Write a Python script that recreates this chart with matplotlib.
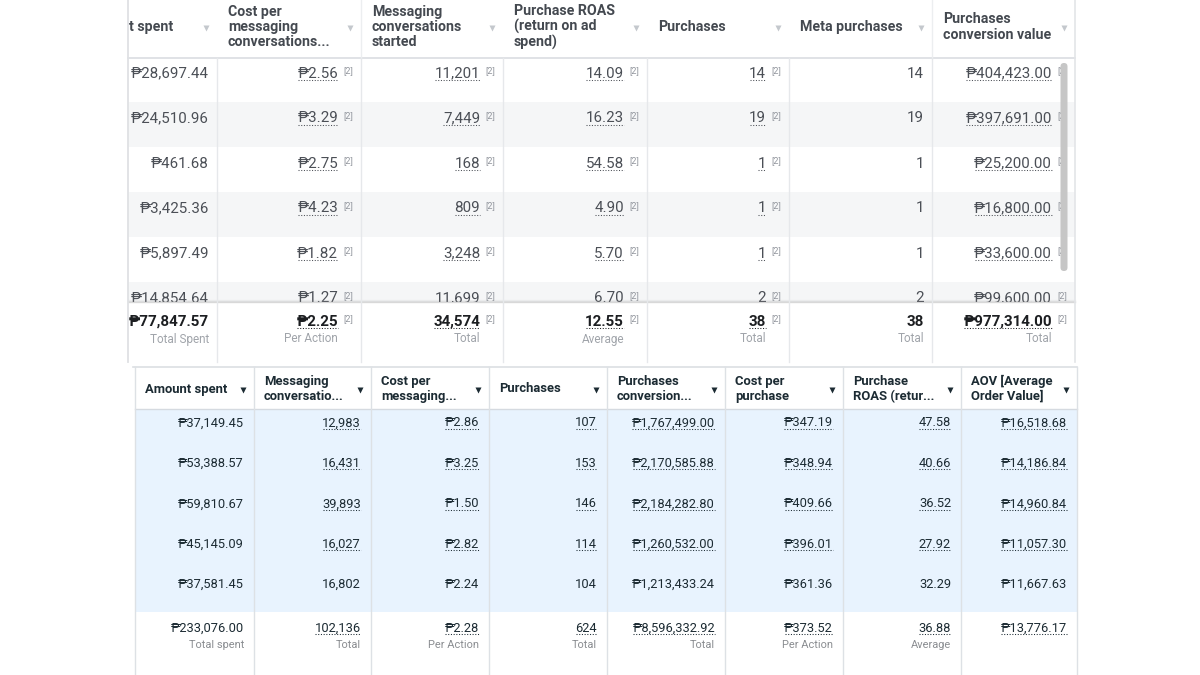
import matplotlib
matplotlib.use('Agg')
import matplotlib.pyplot as plt
from matplotlib.patches import Rectangle, FancyBboxPatch

# ---------------- data ----------------
top_headers = ["t spent", "Cost per\nmessaging\nconversations...", "Messaging\nconversations\nstarted",
               "Purchase ROAS\n(return on ad\nspend)", "Purchases", "Meta purchases",
               "Purchases\nconversion value"]
top_amount_spent = [28697.44, 24510.96, 461.68, 3425.36, 5897.49, 14854.64]
top_cost_per_msg = [2.56, 3.29, 2.75, 4.23, 1.82, 1.27]
top_msgs_started = [11201, 7449, 168, 809, 3248, 11699]
top_roas = [14.09, 16.23, 54.58, 4.90, 5.70, 6.70]
top_purchases = [14, 19, 1, 1, 1, 2]
top_meta_purchases = [14, 19, 1, 1, 1, 2]
top_conv_value = [404423.00, 397691.00, 25200.00, 16800.00, 33600.00, 99600.00]
top_totals = [77847.57, 2.25, 34574, 12.55, 38, 38, 977314.00]
top_total_labels = ["Total Spent", "Per Action", "Total", "Average", "Total", "Total", "Total"]
top_formats = ["peso", "peso", "int", "float", "int", "int", "peso"]
top_superscript = [False, True, True, True, True, False, True]

bot_headers = ["Amount spent", "Messaging\nconversatio...", "Cost per\nmessaging...", "Purchases",
               "Purchases\nconversion...", "Cost per\npurchase", "Purchase\nROAS (retur...",
               "AOV [Average\nOrder Value]"]
bot_amount_spent = [37149.45, 53388.57, 59810.67, 45145.09, 37581.45]
bot_msgs = [12983, 16431, 39893, 16027, 16802]
bot_cost_per_msg = [2.86, 3.25, 1.50, 2.82, 2.24]
bot_purchases = [107, 153, 146, 114, 104]
bot_conv_value = [1767499.00, 2170585.88, 2184282.80, 1260532.00, 1213433.24]
bot_cost_per_purchase = [347.19, 348.94, 409.66, 396.01, 361.36]
bot_roas = [47.58, 40.66, 36.52, 27.92, 32.29]
bot_aov = [16518.68, 14186.84, 14960.84, 11057.30, 11667.63]
bot_totals = [233076.00, 102136, 2.28, 624, 8596332.92, 373.52, 36.88, 13776.17]
bot_total_labels = ["Total spent", "Total", "Per Action", "Total", "Total", "Per Action", "Average", ""]
bot_formats = ["peso", "int", "peso", "int", "peso", "peso", "float", "peso"]

top_columns = [top_amount_spent, top_cost_per_msg, top_msgs_started, top_roas,
               top_purchases, top_meta_purchases, top_conv_value]
bot_columns = [bot_amount_spent, bot_msgs, bot_cost_per_msg, bot_purchases,
               bot_conv_value, bot_cost_per_purchase, bot_roas, bot_aov]


def fmt(v, kind):
    if kind == "peso":
        return "\u20b1{:,.2f}".format(v)
    if kind == "int":
        return "{:,}".format(int(v))
    return "{:.2f}".format(v)


# ---------------- figure ----------------
W, H = 1200, 675
fig = plt.figure(figsize=(12, 6.75), dpi=100)
ax = fig.add_axes([0, 0, 1, 1])
ax.set_xlim(0, W)
ax.set_ylim(H, 0)
ax.axis('off')
fig.patch.set_facecolor('white')

FONT = ['Roboto', 'DejaVu Sans']
under = []


def put(x, y, s, size, color, weight='normal', ha='right', va='baseline',
        underline=False, z=4, ls=1.2):
    t = ax.text(x, y, s, fontsize=size, color=color, fontweight=weight, ha=ha, va=va,
                family=FONT, zorder=z, linespacing=ls)
    if underline:
        under.append((t, y + 2.4, color, z))
    return t


# ---------------- top table ----------------
T_EDGES = [128, 217, 361, 503, 647, 789, 932, 1075]
T_HEAD_BOTTOM = 58
T_ROW_H = 45
T_FOOT_TOP = 302
T_BOTTOM = 362
TXT_TOP = '#4b4f56'
GRID_TOP = '#e6e8eb'

# alternating row bands
for i in range(len(top_amount_spent)):
    if i % 2 == 1:
        y0 = T_HEAD_BOTTOM + 44 + T_ROW_H * (i - 1)
        ax.add_patch(Rectangle((T_EDGES[0], y0), T_EDGES[-1] - T_EDGES[0], T_ROW_H,
                               facecolor='#f5f6f7', edgecolor='none', zorder=1))

# header line
ax.plot([T_EDGES[0], T_EDGES[-1]], [T_HEAD_BOTTOM, T_HEAD_BOTTOM], color='#dadde1', lw=1.2, zorder=3)
# vertical lines
for x in T_EDGES[1:-1]:
    ax.plot([x, x], [T_HEAD_BOTTOM, T_BOTTOM], color=GRID_TOP, lw=1.0, zorder=6)
for x in [361, 932]:
    ax.plot([x, x], [0, T_HEAD_BOTTOM], color='#eceef0', lw=1.0, zorder=3)
# outer borders
ax.plot([T_EDGES[0], T_EDGES[0]], [0, T_BOTTOM], color='#dfe1e4', lw=1.3, zorder=6)
ax.plot([T_EDGES[-1], T_EDGES[-1]], [0, T_BOTTOM], color='#e3e5e8', lw=1.2, zorder=6)

# headers
for j, h in enumerate(top_headers):
    x = T_EDGES[j] + (1 if j == 0 else 11)
    put(x, 27, h, 10.2, '#444950', weight='bold', ha='left', va='center', z=4, ls=1.12)
    ax.plot([T_EDGES[j + 1] - 11], [28], marker='v', ms=5, color='#c4c8cd', mec='none', zorder=4)

# body
for j, col in enumerate(top_columns):
    right = T_EDGES[j + 1]
    for i, v in enumerate(col):
        yb = T_HEAD_BOTTOM + 14 + T_ROW_H * i + 5.5
        s = fmt(v, top_formats[j])
        if top_superscript[j]:
            put(right - 23, yb, s, 10.9, TXT_TOP, underline=True, z=4)
            put(right - 8, yb - 4.5, "[2]", 6.6, '#90949c', z=4)
        else:
            put(right - 8, yb, s, 10.9, TXT_TOP, z=4)

# footer overlay with shadow
ax.add_patch(Rectangle((T_EDGES[0], T_FOOT_TOP), T_EDGES[-1] - T_EDGES[0], T_BOTTOM - T_FOOT_TOP,
                       facecolor='white', edgecolor='none', zorder=5))
for k, a in enumerate([0.35, 0.18, 0.08]):
    ax.plot([T_EDGES[0], T_EDGES[-1]], [T_FOOT_TOP - k, T_FOOT_TOP - k], color='#9a9a9a',
            alpha=a, lw=1.0, zorder=5.5)

for j, v in enumerate(top_totals):
    right = T_EDGES[j + 1]
    s = fmt(v, top_formats[j])
    yb = 325.5
    if top_superscript[j]:
        put(right - 23, yb, s, 10.9, '#1c1e21', weight='bold', underline=True, z=7)
        put(right - 8, yb - 4.5, "[2]", 6.6, '#90949c', z=7)
        lx = right - 23
    else:
        put(right - 8, yb, s, 10.9, '#1c1e21', weight='bold', z=7)
        lx = right - 8
    put(lx, 342.5, top_total_labels[j], 8.5, '#a0a4aa', z=7)

# scrollbar thumb
ax.add_patch(FancyBboxPatch((1060.5, 63), 7, 208, boxstyle="round,pad=0,rounding_size=3.5",
                            facecolor='#c6c6c6', edgecolor='none', zorder=8))

# ---------------- bottom table ----------------
B_EDGES = [135, 254, 371, 489, 607, 725, 843, 961, 1077]
B_TOP = 367
B_HEAD_BOTTOM = 409
B_FOOT_TOP = 612
B_ROW_H = 40.4
TXT_BOT = '#1c2b33'
GRID_BOT = '#dde1e5'

ax.add_patch(Rectangle((B_EDGES[0], B_HEAD_BOTTOM), B_EDGES[-1] - B_EDGES[0], B_FOOT_TOP - B_HEAD_BOTTOM,
                       facecolor='#e8f3fe', edgecolor='none', zorder=1))
ax.plot([B_EDGES[0] - 2, B_EDGES[-1]], [B_TOP, B_TOP], color='#dcdfe3', lw=1.2, zorder=3)
ax.plot([B_EDGES[0], B_EDGES[-1]], [B_HEAD_BOTTOM, B_HEAD_BOTTOM], color='#d5dae0', lw=1.0, zorder=3)
for x in B_EDGES:
    ax.plot([x, x], [B_TOP, H], color=GRID_BOT, lw=1.0, zorder=3)

for j, h in enumerate(bot_headers):
    put(B_EDGES[j] + 10, 389, h, 9.4, TXT_BOT, weight='bold', ha='left', va='center', z=4, ls=1.2)
    ax.plot([B_EDGES[j + 1] - 11], [390], marker='v', ms=4.2, color=TXT_BOT, mec='none', zorder=4)

n_rows = len(bot_amount_spent)
for j, col in enumerate(bot_columns):
    right = B_EDGES[j + 1] - 10
    for i, v in enumerate(col):
        yb = B_HEAD_BOTTOM + 13 + B_ROW_H * i + 4.5
        ul = (j > 0) and (i < n_rows - 1)
        put(right, yb, fmt(v, bot_formats[j]), 9.3, TXT_BOT, underline=ul, z=4)

for j, v in enumerate(bot_totals):
    right = B_EDGES[j + 1] - 10
    put(right, 631.5, fmt(v, bot_formats[j]), 9.3, TXT_BOT, underline=(j > 0), z=4)
    if bot_total_labels[j]:
        put(right, 648, bot_total_labels[j], 7.9, '#8a8d91', z=4)

# ---------------- dotted underlines ----------------
renderer = fig.canvas.get_renderer()
inv = ax.transData.inverted()
for t, yl, c, z in under:
    bb = t.get_window_extent(renderer)
    x0 = inv.transform((bb.x0, bb.y0))[0]
    x1 = inv.transform((bb.x1, bb.y0))[0]
    ax.plot([x0 + 0.5, x1 - 0.5], [yl, yl], color=c, lw=0.75, ls=(0, (1, 1.6)), zorder=z)

fig.savefig('out.png', dpi=100, facecolor='white')
